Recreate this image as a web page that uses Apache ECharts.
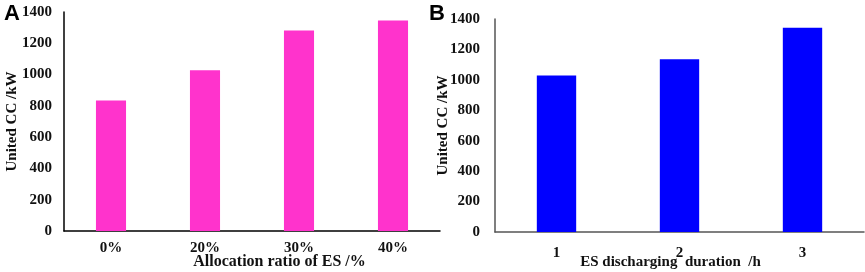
<!DOCTYPE html>
<html>
<head>
<meta charset="utf-8">
<script src="https://cdn.jsdelivr.net/npm/echarts@6/dist/echarts.min.js"></script>
<style>
  html, body { margin: 0; padding: 0; background: #fff; }
  #chart { width: 865px; height: 272px; }
</style>
</head>
<body>
<div id="chart"></div>
<script>
// panel A: united CC vs allocation ratio of ES
const ratioCats = ['0%', '20%', '30%', '40%']
const ratioCC = [835, 1027, 1281, 1345]
// panel B: united CC vs ES discharging duration
const durationCats = ['1', '2', '3']
const durationCC = [1029, 1135, 1343]
// shared y scale
const yMin = 0
const yMax = 1400
const yStep = 200

const serif = '"Liberation Serif", "Times New Roman", serif'
const chart = echarts.init(document.getElementById('chart'))

const tickStyle = { fontFamily: serif, fontWeight: 'bold', fontSize: 15, color: '#111' }

const yAxisBase = (lineColor, margin) => ({
  type: 'value',
  min: yMin,
  max: yMax,
  interval: yStep,
  name: 'United CC /kW',
  nameLocation: 'middle',
  nameGap: 44,
  nameMoveOverlap: false,
  nameTextStyle: { fontFamily: serif, fontWeight: 'bold', fontSize: 15, color: '#111' },
  axisLine: { show: true, lineStyle: { color: lineColor, width: 1.5 } },
  axisTick: { show: false },
  splitLine: { show: false },
  axisLabel: Object.assign({ margin: margin, formatter: v => String(v) }, tickStyle)
})

const option = {
  animation: false,
  title: [
    { text: 'A', left: -1, top: -2, textStyle: { fontFamily: '"Liberation Sans", Arial', fontWeight: 'bold', fontSize: 22, color: '#000' } },
    { text: 'B', left: 424, top: -2, textStyle: { fontFamily: '"Liberation Sans", Arial', fontWeight: 'bold', fontSize: 22, color: '#000' } }
  ],
  grid: [
    { left: 64, right: 425, top: 12, bottom: 41, outerBoundsMode: 'none', containLabel: false },
    { left: 495, right: 1, top: 19, bottom: 40, outerBoundsMode: 'none', containLabel: false }
  ],
  xAxis: [
    {
      type: 'category',
      gridIndex: 0,
      data: ratioCats,
      name: 'Allocation ratio of ES /%',
      nameLocation: 'middle',
      nameGap: 23,
      nameMoveOverlap: false,
      nameTextStyle: { fontFamily: serif, fontWeight: 'bold', fontSize: 16, color: '#111', padding: [0, 0, 0, 55] },
      axisLine: { lineStyle: { color: '#000', width: 1.5 } },
      axisTick: { show: false },
      axisLabel: Object.assign({ margin: 10 }, tickStyle)
    },
    {
      type: 'category',
      gridIndex: 1,
      data: durationCats,
      name: 'ES discharging  duration  /h',
      nameLocation: 'middle',
      nameGap: 23,
      nameMoveOverlap: false,
      nameTextStyle: { fontFamily: serif, fontWeight: 'bold', fontSize: 15, color: '#111', padding: [0, 18, 0, 0] },
      axisLine: { lineStyle: { color: '#555', width: 1.5 } },
      axisTick: { show: false },
      axisLabel: Object.assign({ margin: 14 }, tickStyle)
    }
  ],
  yAxis: [
    Object.assign({ gridIndex: 0 }, yAxisBase('#000', 12)),
    Object.assign({ gridIndex: 1 }, yAxisBase('#555', 15))
  ],
  series: [
    {
      type: 'bar',
      xAxisIndex: 0,
      yAxisIndex: 0,
      data: ratioCC,
      barWidth: '32%',
      itemStyle: { color: '#FF33CC' }
    },
    {
      type: 'bar',
      xAxisIndex: 1,
      yAxisIndex: 1,
      data: durationCC,
      barWidth: '32%',
      itemStyle: { color: '#0000FF' }
    }
  ]
}

chart.setOption(option)
</script>
</body>
</html>
